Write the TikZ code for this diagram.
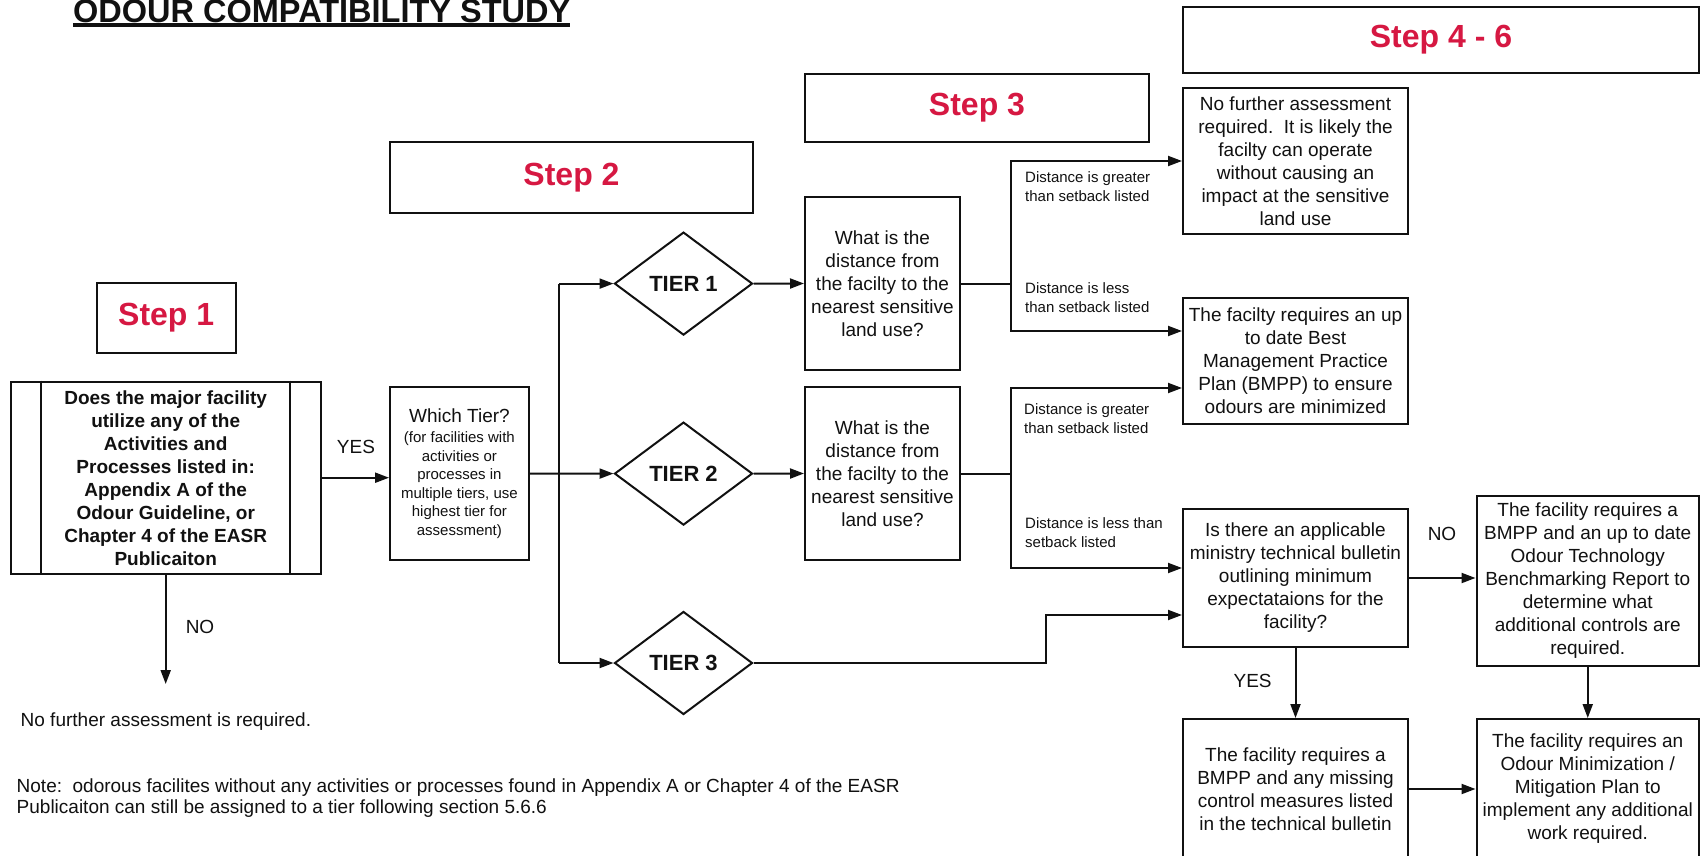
\documentclass[tikz,border=0pt]{standalone}
\usepackage{fontspec}
\setmainfont{Liberation Sans}
\usetikzlibrary{arrows.meta,shapes.geometric}
\definecolor{stepred}{RGB}{214,24,66}
\definecolor{ink}{RGB}{17,17,17}
\newcommand\myul[1]{\sbox0{#1}\rlap{\raisebox{-4.5pt}{\rule{\wd0}{3.5pt}}}\usebox0}
\tikzset{
  box/.style={draw=ink, line width=2pt, align=center, inner sep=0pt, text=ink, font=\fontsize{19}{23}\selectfont},
  stepbox/.style={draw=ink, line width=2pt, inner sep=0pt, text=stepred, font=\fontsize{32}{38}\selectfont\bfseries},
  tier/.style={diamond, draw=ink, line width=2pt, minimum width=138pt, minimum height=103pt, inner sep=0pt, text=ink, font=\fontsize{22}{26}\selectfont\bfseries},
  lbl/.style={font=\fontsize{15}{19}\selectfont, align=left, inner sep=0pt, anchor=west, text=ink},
  word/.style={font=\fontsize{19}{23}\selectfont, inner sep=0pt, text=ink},
  ln/.style={draw=ink, line width=2pt},
  arr/.style={draw=ink, line width=2pt, -{Triangle[length=14pt,width=10pt]}}
}
\begin{document}
\begin{tikzpicture}[x=1pt,y=-1pt]
\useasboundingbox[fill=white] (0,0) rectangle (1701,856);

% title
\node[anchor=base west, inner sep=0pt, text=ink, font=\fontsize{32.5}{38}\selectfont\bfseries] (title) at (73,22.5) {\myul{ODOUR COMPATIBILITY STUDY}};

% step headers
\node[stepbox, minimum width=139pt, minimum height=70pt] (st1) at (166.2,318) {Step 1};
\node[stepbox, minimum width=363pt, minimum height=70.5pt] (st2) at (571.5,177.7) {Step 2};
\node[stepbox, minimum width=344pt, minimum height=68pt] (st3) at (977,108) {Step 3};
\node[stepbox, minimum width=516pt, minimum height=66pt] (st4) at (1441,40) {Step 4 - 6};

% step 1 process box
\node[box, font=\fontsize{19}{23}\selectfont\bfseries, minimum width=310pt, minimum height=192.3pt] (s1) at (165.7,477.8)
  {Does the major facility\\utilize any of the\\Activities and\\Processes listed in:\\Appendix A of the\\Odour Guideline, or\\Chapter 4 of the EASR\\Publicaiton};
\draw[ln] ([xshift=31pt]s1.north west) -- ([xshift=31pt]s1.south west);
\draw[ln] ([xshift=-31.5pt]s1.north east) -- ([xshift=-31.5pt]s1.south east);

% which tier
\node[box, font=\fontsize{15}{18.5}\selectfont, minimum width=138.7pt, minimum height=173pt] (wt) at (459.4,473.5)
  {{\fontsize{19}{23}\selectfont Which Tier?}\\[1.5pt](for facilities with\\activities or\\processes in\\multiple tiers, use\\highest tier for\\assessment)};

% tiers
\node[tier] (t1) at (683.5,283.6) {TIER 1};
\node[tier] (t2) at (683.5,473.6) {TIER 2};
\node[tier] (t3) at (683.5,663) {TIER 3};

% distance questions
\node[box, minimum width=155pt, minimum height=173pt] (q1) at (882.5,283.5)
  {What is the\\distance from\\the facilty to the\\nearest sensitive\\land use?};
\node[box, minimum width=155pt, minimum height=173pt] (q2) at (882.5,473.5)
  {What is the\\distance from\\the facilty to the\\nearest sensitive\\land use?};

% outcomes
\node[box, minimum width=225pt, minimum height=146pt] (nf) at (1295.5,161)
  {No further assessment\\required.\ \ It is likely the\\facilty can operate\\without causing an\\impact at the sensitive\\land use};
\node[box, minimum width=225pt, minimum height=126pt] (bmpp) at (1295.5,361)
  {The facilty requires an up\\to date Best\\Management Practice\\Plan (BMPP) to ensure\\odours are minimized};
\node[box, minimum width=225pt, minimum height=138pt] (bul) at (1295.5,578)
  {Is there an applicable\\ministry technical bulletin\\outlining minimum\\expectataions for the\\facility?};
\node[box, minimum width=222.5pt, minimum height=170pt] (bench) at (1587.75,581)
  {The facility requires a\\BMPP and an up to date\\Odour Technology\\Benchmarking Report to\\determine what\\additional controls are\\required.};
\node[box, minimum width=225pt, minimum height=140pt] (bmiss) at (1295.5,789)
  {The facility requires a\\BMPP and any missing\\control measures listed\\in the technical bulletin};
\node[box, minimum width=222.5pt, minimum height=140pt] (mit) at (1587.75,789)
  {The facility requires an\\Odour Minimization /\\Mitigation Plan to\\implement any additional\\work required.};

% branch labels
\node[lbl] (l1) at (1025,186.5) {Distance is greater\\than setback listed};
\node[lbl] (l2) at (1025,297.5) {Distance is less\\than setback listed};
\node[lbl] (l3) at (1024,418.5) {Distance is greater\\than setback listed};
\node[lbl] (l4) at (1025,532.5) {Distance is less than\\setback listed};

% yes / no words
\node[word] (yes1) at (356,446.7) {YES};
\node[word] (no1) at (200,626.7) {NO};
\node[word] (no2) at (1442,534) {NO};
\node[word] (yes2) at (1252.6,681) {YES};

% bottom texts
\node[word, anchor=west] (nfa) at (20.5,722) {No further assessment is required.};
\node[word, anchor=west, align=left, font=\fontsize{19}{21}\selectfont] (note) at (16.5,798)
  {Note:\ \ odorous facilites without any activities or processes found in Appendix A or Chapter 4 of the EASR\\Publicaiton can still be assigned to a tier following section 5.6.6};

% coordinates for junctions
\coordinate (jx) at (559,473.6);
\coordinate (bx) at (1011,0);
\coordinate (tx) at (1045.6,0);
\coordinate (noend) at (165.7,684);

% connectors
\draw[arr] (s1.east |- 0,477.7) -- (wt.west |- 0,477.7);
\draw[arr] (s1.south) -- (noend);
\draw[arr] (wt.east) -- (t2.west);
\draw[ln] (jx |- t1.west) -- (jx |- t3.west);
\draw[arr] (jx |- t1.west) -- (t1.west);
\draw[arr] (jx |- t3.west) -- (t3.west);
\draw[arr] (t1.east) -- (q1.west);
\draw[arr] (t2.east) -- (q2.west);
\draw[arr] (q1.east) -- (q1.east -| bx) |- (nf.west);
\draw[arr] (q1.east -| bx) |- ([yshift=30pt]bmpp.west);
\draw[arr] (q2.east) -- (q2.east -| bx) |- ([yshift=-27pt]bmpp.west);
\draw[arr] (q2.east -| bx) |- ([yshift=10pt]bul.west);
\draw[arr] (t3.east) -- (t3.east -| tx) |- ([yshift=-37pt]bul.west);
\draw[arr] (bul.east) -- (bul.east -| bench.west);
\draw[arr] (bul.south) -- (bmiss.north);
\draw[arr] (bench.south) -- (mit.north);
\draw[arr] (bmiss.east) -- (mit.west);
\end{tikzpicture}
\end{document}
